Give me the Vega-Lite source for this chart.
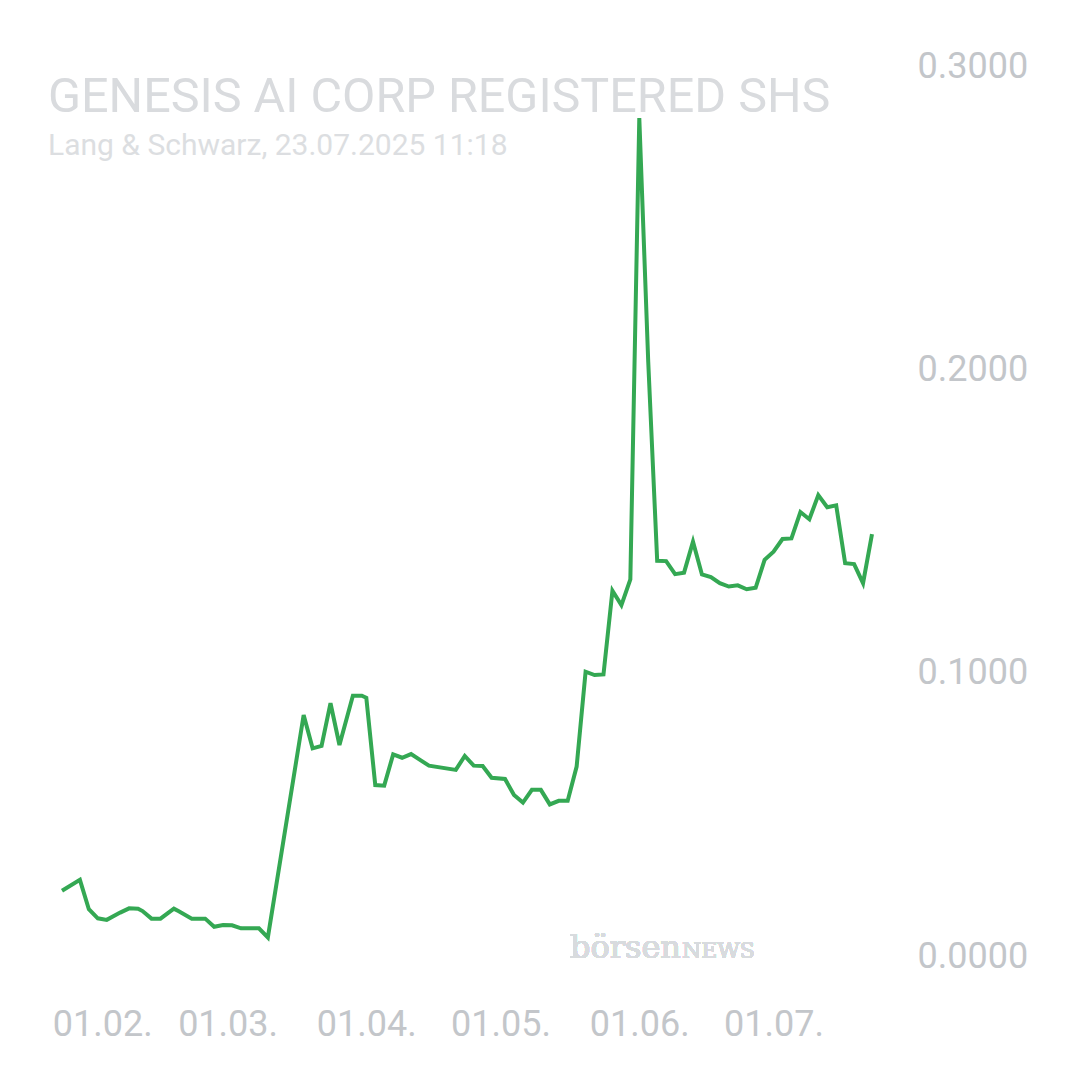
{
  "$schema": "https://vega.github.io/schema/vega-lite/v6.json",
  "width": 810,
  "height": 909,
  "autosize": {"type": "none"},
  "padding": {"left": 62, "top": 66, "right": 208, "bottom": 105},
  "background": "white",
  "config": {"view": {"stroke": null}, "font": "Roboto"},
  "title": {
    "text": "GENESIS AI CORP REGISTERED SHS",
    "subtitle": "Lang & Schwarz, 23.07.2025 11:18",
    "anchor": "start",
    "frame": "group",
    "orient": "top",
    "font": "Roboto",
    "fontSize": 48.5,
    "fontWeight": 400,
    "color": "#d9dbde",
    "subtitleFont": "Roboto",
    "subtitleFontSize": 30,
    "subtitleColor": "#dcdee1",
    "subtitlePadding": 9,
    "dx": -14,
    "dy": 118
  },
  "data": {
    "values": [
      {"date": "2025-01-23", "price": 0.0278},
      {"date": "2025-01-27", "price": 0.0314},
      {"date": "2025-01-29", "price": 0.0217},
      {"date": "2025-01-31", "price": 0.0187},
      {"date": "2025-02-02", "price": 0.0182},
      {"date": "2025-02-05", "price": 0.0206},
      {"date": "2025-02-07", "price": 0.0220},
      {"date": "2025-02-09", "price": 0.0219},
      {"date": "2025-02-10", "price": 0.0211},
      {"date": "2025-02-12", "price": 0.0186},
      {"date": "2025-02-14", "price": 0.0186},
      {"date": "2025-02-17", "price": 0.0219},
      {"date": "2025-02-18", "price": 0.0211},
      {"date": "2025-02-21", "price": 0.0186},
      {"date": "2025-02-24", "price": 0.0186},
      {"date": "2025-02-26", "price": 0.0159},
      {"date": "2025-02-28", "price": 0.0165},
      {"date": "2025-03-02", "price": 0.0164},
      {"date": "2025-03-04", "price": 0.0154},
      {"date": "2025-03-08", "price": 0.0154},
      {"date": "2025-03-10", "price": 0.0124},
      {"date": "2025-03-18", "price": 0.0858},
      {"date": "2025-03-20", "price": 0.0748},
      {"date": "2025-03-22", "price": 0.0756},
      {"date": "2025-03-24", "price": 0.0897},
      {"date": "2025-03-26", "price": 0.0759},
      {"date": "2025-03-29", "price": 0.0922},
      {"date": "2025-03-31", "price": 0.0922},
      {"date": "2025-04-01", "price": 0.0915},
      {"date": "2025-04-03", "price": 0.0627},
      {"date": "2025-04-05", "price": 0.0625},
      {"date": "2025-04-07", "price": 0.0728},
      {"date": "2025-04-09", "price": 0.0717},
      {"date": "2025-04-11", "price": 0.0729},
      {"date": "2025-04-13", "price": 0.0710},
      {"date": "2025-04-15", "price": 0.0691},
      {"date": "2025-04-21", "price": 0.0677},
      {"date": "2025-04-23", "price": 0.0723},
      {"date": "2025-04-25", "price": 0.0691},
      {"date": "2025-04-27", "price": 0.0690},
      {"date": "2025-04-29", "price": 0.0651},
      {"date": "2025-05-02", "price": 0.0647},
      {"date": "2025-05-04", "price": 0.0594},
      {"date": "2025-05-06", "price": 0.0569},
      {"date": "2025-05-08", "price": 0.0611},
      {"date": "2025-05-10", "price": 0.0611},
      {"date": "2025-05-12", "price": 0.0563},
      {"date": "2025-05-14", "price": 0.0575},
      {"date": "2025-05-16", "price": 0.0575},
      {"date": "2025-05-18", "price": 0.0688},
      {"date": "2025-05-20", "price": 0.1001},
      {"date": "2025-05-22", "price": 0.0990},
      {"date": "2025-05-24", "price": 0.0992},
      {"date": "2025-05-26", "price": 0.1268},
      {"date": "2025-05-28", "price": 0.1221},
      {"date": "2025-05-30", "price": 0.1306},
      {"date": "2025-06-01", "price": 0.2828},
      {"date": "2025-06-03", "price": 0.2023},
      {"date": "2025-06-05", "price": 0.1367},
      {"date": "2025-06-07", "price": 0.1366},
      {"date": "2025-06-09", "price": 0.1323},
      {"date": "2025-06-11", "price": 0.1328},
      {"date": "2025-06-13", "price": 0.1430},
      {"date": "2025-06-15", "price": 0.1322},
      {"date": "2025-06-17", "price": 0.1313},
      {"date": "2025-06-19", "price": 0.1293},
      {"date": "2025-06-21", "price": 0.1282},
      {"date": "2025-06-23", "price": 0.1286},
      {"date": "2025-06-25", "price": 0.1273},
      {"date": "2025-06-27", "price": 0.1278},
      {"date": "2025-06-29", "price": 0.1370},
      {"date": "2025-07-01", "price": 0.1397},
      {"date": "2025-07-03", "price": 0.1439},
      {"date": "2025-07-05", "price": 0.1441},
      {"date": "2025-07-07", "price": 0.1528},
      {"date": "2025-07-09", "price": 0.1504},
      {"date": "2025-07-11", "price": 0.1584},
      {"date": "2025-07-13", "price": 0.1544},
      {"date": "2025-07-15", "price": 0.1550},
      {"date": "2025-07-17", "price": 0.1359},
      {"date": "2025-07-19", "price": 0.1356},
      {"date": "2025-07-21", "price": 0.1293},
      {"date": "2025-07-23", "price": 0.1455}
    ]
  },
  "layer": [
    {
      "mark": {"type": "line", "color": "#34a853", "strokeWidth": 4},
      "encoding": {
        "x": {
          "field": "date",
          "type": "temporal",
          "scale": {
            "type": "utc",
            "domain": [
              {"year": 2025, "month": 1, "date": 23, "utc": true},
              {"year": 2025, "month": 7, "date": 23, "utc": true}
            ]
          },
          "axis": {
            "values": [
              {"year": 2025, "month": 2, "date": 1, "utc": true},
              {"year": 2025, "month": 3, "date": 1, "utc": true},
              {"year": 2025, "month": 4, "date": 1, "utc": true},
              {"year": 2025, "month": 5, "date": 1, "utc": true},
              {"year": 2025, "month": 6, "date": 1, "utc": true},
              {"year": 2025, "month": 7, "date": 1, "utc": true}
            ],
            "labelExpr": "utcFormat(datum.value, '%d.%m.')",
            "domain": false,
            "ticks": false,
            "grid": false,
            "labelPadding": 32,
            "labelFont": "Roboto",
            "labelFontSize": 36,
            "labelColor": "#c3c6ca",
            "labelFlush": false,
            "labelOverlap": false,
            "labelBound": false,
            "title": null
          }
        },
        "y": {
          "field": "price",
          "type": "quantitative",
          "scale": {"domain": [0, 0.3], "nice": false},
          "axis": {
            "orient": "right",
            "values": [0, 0.1, 0.2, 0.3],
            "format": ".4f",
            "domain": false,
            "ticks": false,
            "grid": false,
            "labelPadding": 45,
            "labelFont": "Roboto",
            "labelFontSize": 36,
            "labelColor": "#c3c6ca",
            "labelFlush": false,
            "labelOverlap": false,
            "labelBound": false,
            "labelOffset": {"condition": {"test": "datum.value === 0", "value": -19}, "value": 0},
            "title": null
          }
        }
      }
    },
    {
      "mark": {"type": "text", "text": "börsen", "font": "DejaVu Serif", "fontSize": 32, "color": "#d8dbde", "align": "left", "baseline": "alphabetic"},
      "encoding": {
        "x": {"datum": {"year": 2025, "month": 5, "date": 16, "hours": 12, "utc": true}, "type": "temporal"},
        "y": {"datum": 0.0056, "type": "quantitative"}
      }
    },
    {
      "mark": {"type": "text", "text": "NEWS", "font": "DejaVu Serif", "fontSize": 22, "color": "#d8dbde", "align": "left", "baseline": "alphabetic", "dx": 112},
      "encoding": {
        "x": {"datum": {"year": 2025, "month": 5, "date": 16, "hours": 12, "utc": true}, "type": "temporal"},
        "y": {"datum": 0.0056, "type": "quantitative"}
      }
    }
  ]
}
